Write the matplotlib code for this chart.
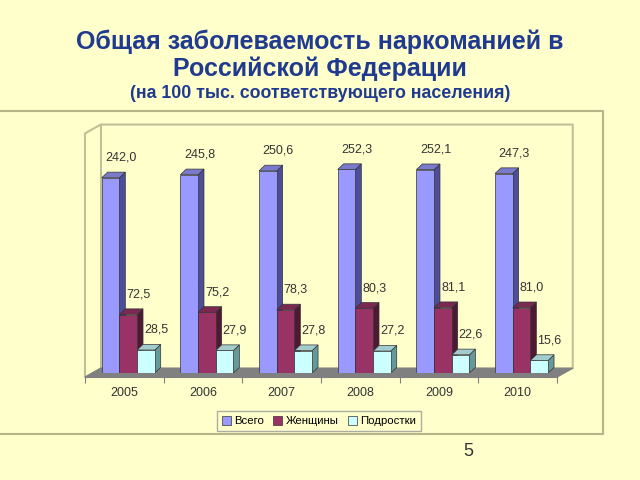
import matplotlib
matplotlib.use("Agg")
import matplotlib.pyplot as plt
from matplotlib.patches import Polygon, Patch
from matplotlib.lines import Line2D
import numpy as np

years = ['2005', '2006', '2007', '2008', '2009', '2010']
total = [242.0, 245.8, 250.6, 252.3, 252.1, 247.3]
women = [72.5, 75.2, 78.3, 80.3, 81.1, 81.0]
teens = [28.5, 27.9, 27.8, 27.2, 22.6, 15.6]
series_names = ['Всего', 'Женщины', 'Подростки']

bg = '#FFFFCC'
fronts = ['#9999FF', '#993366', '#CCFFFF']
sides = ['#4d4d99', '#4d1933', '#669999']
tops = ['#7a7acc', '#7a2952', '#a3cccc']

plt.rcParams['font.family'] = ['Liberation Sans', 'DejaVu Sans']

fig = plt.figure(figsize=(6.4, 4.8), dpi=100, facecolor=bg)

# titles
title_col = '#1f3a8f'
fig.text(0.5, 1 - 42/480, 'Общая заболеваемость наркоманией в', ha='center', va='center',
         fontsize=18, fontweight='bold', color=title_col)
fig.text(0.5, 1 - 69/480, 'Российской Федерации', ha='center', va='center',
         fontsize=18, fontweight='bold', color=title_col)
fig.text(0.5, 1 - 93/480, '(на 100 тыс. соответствующего населения)', ha='center', va='center',
         fontsize=12.8, fontweight='bold', color=title_col)
fig.text(468/640, 1 - 452/480, '5', ha='center', va='center', fontsize=13, color='#333333')

# outer chart frame (top, right, bottom edges)
fx = [0, 603/640, 603/640, 0]
fy = [1 - 111/480, 1 - 111/480, 1 - 434/480, 1 - 434/480]
fig.lines.append(Line2D(fx, fy, transform=fig.transFigure, color='#b5b58a', lw=1.5))

ax = fig.add_axes([85/640, 107/480, 472/640, 242/480])
ax.set_facecolor('none')
ax.set_xlim(-0.5, 5.5)
ax.set_ylim(0, 300)

top_wall = 297
dx, dy = 0.2, 11.0      # depth of the floor / walls
bdx, bdy = 0.075, 7.0   # depth of each bar
w = 0.225
x = np.arange(len(years))

# walls
wall = dict(color='#c0c098', lw=1.5, clip_on=False, zorder=1)
ax.plot([-0.5, -0.5, -0.5 + dx, 5.5 + dx, 5.5 + dx],
        [-5, top_wall, top_wall + dy, top_wall + dy, -5 + dy], **wall)
ax.plot([-0.5 + dx, -0.5 + dx], [-5 + dy, top_wall + dy], **wall)

# floor
ax.add_patch(Polygon([(-0.5, -5), (5.5, -5), (5.5 + dx, -5 + dy), (-0.5 + dx, -5 + dy)],
                     closed=True, facecolor='#808080', edgecolor='#808080', zorder=2, clip_on=False))

for k, vals in enumerate([total, women, teens]):
    xs = x + (k - 1) * w + 0.05
    z = 3 + k
    ax.bar(xs, vals, width=w, color=fronts[k], edgecolor='#333333', lw=0.5, zorder=z + 0.5)
    for xi, v in zip(xs, vals):
        r = xi + w / 2
        l = xi - w / 2
        ax.add_patch(Polygon([(r, 0), (r + bdx, bdy), (r + bdx, v + bdy), (r, v)], closed=True,
                             facecolor=sides[k], edgecolor='#333333', lw=0.5, zorder=z))
        ax.add_patch(Polygon([(l, v), (r, v), (r + bdx, v + bdy), (l + bdx, v + bdy)], closed=True,
                             facecolor=tops[k], edgecolor='#333333', lw=0.5, zorder=z))
        ax.text(xi + 0.13, v + 25, f'{v:.1f}'.replace('.', ','), ha='center', va='center',
                fontsize=9, color='#333333', zorder=10)

# axis with ticks at category boundaries
for s in ['top', 'right', 'left']:
    ax.spines[s].set_visible(False)
ax.spines['bottom'].set_position(('data', -5))
ax.spines['bottom'].set_color('#808080')
ax.set_yticks([])
ax.set_xticks(np.arange(-0.5, 6, 1))
ax.set_xticklabels([])
ax.set_xticks(x, minor=True)
ax.set_xticklabels(years, minor=True)
ax.tick_params(axis='x', which='major', length=4, color='#808080', direction='out')
ax.tick_params(axis='x', which='minor', length=0, pad=7, labelsize=9, labelcolor='#333333')

handles = [Patch(facecolor=fronts[k], edgecolor='#333333', lw=0.5, label=series_names[k]) for k in range(3)]
fig.legend(handles=handles, loc='center', bbox_to_anchor=(319/640, 1 - 421/480), ncol=3,
           fontsize=8.2, frameon=True, fancybox=False, edgecolor='#999999', facecolor=bg,
           handlelength=0.8, handleheight=0.8, handletextpad=0.3, columnspacing=0.8,
           borderpad=0.4)

fig.savefig('out.png', dpi=100, facecolor=bg)
